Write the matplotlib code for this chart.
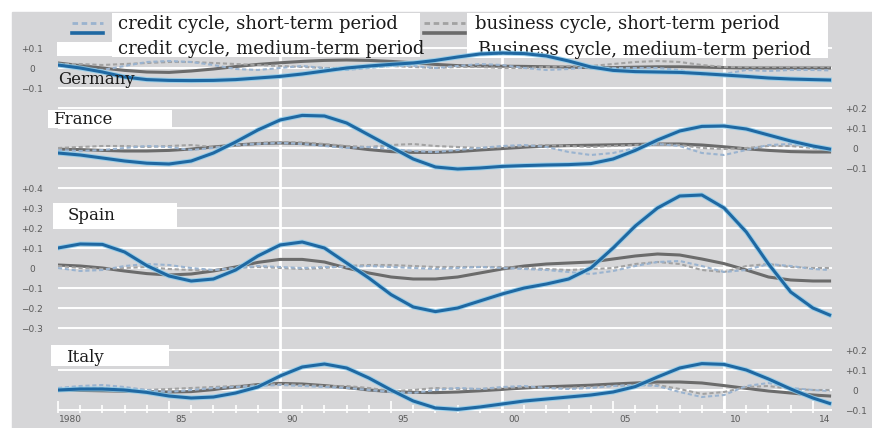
import numpy as np
import matplotlib
matplotlib.use("Agg")
import matplotlib.pyplot as plt
import matplotlib.transforms as mtransforms
from matplotlib.lines import Line2D
from matplotlib.patches import Rectangle

# yearly readings, last point = latest observation (2014 Q3)
years = list(range(1980, 2015)) + [2014.75]

de_credit_short = [0.01, 0.0, -0.01, 0.01, 0.03, 0.035, 0.03, 0.015, -0.005, -0.01, 0.0, 0.01,
                   0.0, -0.01, 0.0, 0.01, 0.01, 0.0, 0.01, 0.02, 0.015, 0.0, -0.01, -0.005,
                   0.005, 0.0, 0.0, 0.0, -0.01, -0.035, -0.03, -0.01, -0.015, -0.01, -0.01, -0.012]
de_credit_med = [0.015, 0.0, -0.02, -0.045, -0.058, -0.062, -0.063, -0.062, -0.058, -0.05, -0.042, -0.03,
                 -0.015, 0.0, 0.01, 0.018, 0.025, 0.038, 0.055, 0.07, 0.075, 0.072, 0.06, 0.035,
                 0.005, -0.012, -0.018, -0.02, -0.022, -0.028, -0.035, -0.042, -0.05, -0.055, -0.058, -0.06]
de_bus_short = [0.02, 0.02, 0.015, 0.02, 0.025, 0.03, 0.03, 0.025, 0.02, 0.015, 0.01, 0.005,
                0.0, 0.0, 0.005, 0.01, 0.005, 0.0, 0.005, 0.005, 0.0, 0.0, 0.005, 0.01,
                0.01, 0.02, 0.03, 0.035, 0.03, 0.015, 0.005, 0.005, 0.005, 0.005, 0.005, 0.005]
de_bus_med = [0.025, 0.012, 0.0, -0.012, -0.02, -0.022, -0.015, -0.005, 0.007, 0.018, 0.026, 0.033,
              0.038, 0.04, 0.038, 0.033, 0.026, 0.018, 0.012, 0.01, 0.009, 0.008, 0.006, 0.004,
              0.002, 0.002, 0.004, 0.006, 0.006, 0.004, 0.002, 0.0, 0.0, 0.0, 0.0, 0.0]

fr_credit_short = [-0.01, -0.015, -0.01, 0.0, 0.01, 0.005, -0.01, 0.0, 0.015, 0.02, 0.025, 0.02,
                   0.01, 0.0, 0.005, -0.005, -0.015, -0.02, -0.01, 0.0, 0.01, 0.015, 0.005, -0.02,
                   -0.035, -0.025, 0.0, 0.02, 0.01, -0.025, -0.035, -0.01, 0.015, 0.02, 0.005, -0.01]
fr_credit_med = [-0.025, -0.035, -0.05, -0.065, -0.076, -0.08, -0.065, -0.025, 0.03, 0.09, 0.14, 0.163,
                 0.16, 0.125, 0.065, 0.005, -0.055, -0.095, -0.105, -0.1, -0.092, -0.088, -0.085, -0.083,
                 -0.078, -0.055, -0.012, 0.04, 0.085, 0.108, 0.11, 0.095, 0.065, 0.035, 0.01, -0.005]
fr_bus_short = [0.0, 0.005, 0.01, 0.01, 0.005, 0.01, 0.015, 0.005, 0.01, 0.025, 0.03, 0.028,
                0.02, 0.01, 0.005, 0.015, 0.02, 0.01, 0.005, 0.0, 0.005, 0.01, 0.015, 0.01,
                0.005, 0.01, 0.015, 0.02, 0.015, 0.0, -0.005, 0.0, 0.01, 0.01, 0.0, -0.01]
fr_bus_med = [-0.005, -0.008, -0.012, -0.015, -0.015, -0.012, -0.005, 0.005, 0.015, 0.022, 0.025, 0.022,
              0.015, 0.005, -0.008, -0.018, -0.022, -0.022, -0.018, -0.01, -0.003, 0.004, 0.009, 0.012,
              0.014, 0.016, 0.018, 0.02, 0.02, 0.015, 0.006, -0.004, -0.012, -0.018, -0.02, -0.02]

es_credit_short = [0.0, -0.015, -0.01, 0.01, 0.02, 0.015, 0.0, -0.01, 0.0, 0.01, 0.005, 0.0,
                   0.005, 0.005, 0.01, 0.005, 0.0, -0.005, 0.0, 0.005, 0.0, -0.005, -0.01, -0.02,
                   -0.03, -0.015, 0.01, 0.03, 0.035, 0.01, -0.02, -0.01, 0.02, 0.01, -0.005, -0.01]
es_credit_med = [0.1, 0.12, 0.118, 0.08, 0.012, -0.04, -0.065, -0.055, -0.01, 0.06, 0.115, 0.13,
                 0.1, 0.025, -0.05, -0.133, -0.195, -0.218, -0.2, -0.165, -0.13, -0.1, -0.08, -0.055,
                 0.0, 0.1, 0.21, 0.3, 0.36, 0.365, 0.3, 0.18, 0.02, -0.12, -0.2, -0.235]
es_bus_short = [0.01, 0.0, -0.005, 0.0, 0.005, -0.005, -0.01, -0.01, 0.0, 0.005, 0.0, -0.005,
                0.0, 0.01, 0.015, 0.015, 0.01, 0.005, 0.005, 0.005, 0.005, 0.0, -0.005, -0.01,
                -0.005, 0.0, 0.02, 0.03, 0.02, -0.01, -0.02, 0.01, 0.02, 0.005, 0.0, 0.0]
es_bus_med = [0.015, 0.01, 0.0, -0.015, -0.028, -0.035, -0.03, -0.015, 0.005, 0.028, 0.043, 0.043,
              0.03, 0.0, -0.025, -0.045, -0.055, -0.055, -0.045, -0.025, -0.005, 0.01, 0.02, 0.025,
              0.03, 0.045, 0.06, 0.07, 0.065, 0.045, 0.022, -0.01, -0.045, -0.06, -0.065, -0.065]

it_credit_short = [0.01, 0.02, 0.025, 0.015, 0.0, -0.01, 0.0, 0.01, 0.015, 0.02, 0.025, 0.02,
                   0.015, 0.01, 0.0, -0.01, -0.015, 0.0, 0.01, 0.005, 0.015, 0.02, 0.01, 0.005,
                   0.01, 0.02, 0.025, 0.02, -0.01, -0.035, -0.025, 0.02, 0.035, 0.01, 0.0, -0.005]
it_credit_med = [0.0, 0.005, 0.005, 0.0, -0.012, -0.03, -0.04, -0.035, -0.015, 0.015, 0.07, 0.115,
                 0.13, 0.11, 0.06, 0.0, -0.055, -0.09, -0.097, -0.085, -0.07, -0.055, -0.045, -0.035,
                 -0.025, -0.01, 0.017, 0.065, 0.11, 0.132, 0.128, 0.1, 0.055, 0.005, -0.04, -0.067]
it_bus_short = [0.005, 0.01, 0.01, 0.005, 0.0, 0.005, 0.01, 0.015, 0.02, 0.025, 0.03, 0.025,
                0.02, 0.02, 0.01, -0.005, 0.0, 0.01, 0.005, 0.005, 0.01, 0.015, 0.01, 0.01,
                0.015, 0.02, 0.025, 0.025, 0.005, -0.02, -0.01, 0.015, 0.02, 0.005, 0.0, 0.0]
it_bus_med = [0.0, -0.002, -0.004, -0.006, -0.008, -0.01, -0.008, 0.002, 0.015, 0.027, 0.033, 0.03,
              0.022, 0.012, 0.0, -0.008, -0.012, -0.013, -0.01, -0.004, 0.003, 0.01, 0.016, 0.02,
              0.024, 0.03, 0.035, 0.04, 0.04, 0.035, 0.022, 0.008, -0.005, -0.015, -0.025, -0.03]

countries = ["Germany", "France", "Spain", "Italy"]
offsets = [0.0, -0.4, -1.0, -1.61]
series = {
    "Germany": (de_credit_short, de_credit_med, de_bus_short, de_bus_med),
    "France": (fr_credit_short, fr_credit_med, fr_bus_short, fr_bus_med),
    "Spain": (es_credit_short, es_credit_med, es_bus_short, es_bus_med),
    "Italy": (it_credit_short, it_credit_med, it_bus_short, it_bus_med),
}
left_ticks = {"Germany": [0.1, 0.0, -0.1],
              "Spain": [0.4, 0.3, 0.2, 0.1, 0.0, -0.1, -0.2, -0.3]}
right_ticks = {"France": [0.2, 0.1, 0.0, -0.1],
               "Italy": [0.2, 0.1, 0.0, -0.1]}
xtick_pos = [1980, 1985, 1990, 1995, 2000, 2005, 2010, 2014]
xtick_lab = ["1980", "85", "90", "95", "00", "05", "10", "14"]

GRAY = "#d6d6d8"
BLUE = "#1f68a2"
BLUE_GLOW = "#8ccbeb"
DARK = "#6b6b6b"
DASH_BLUE = "#9ab3cf"
DASH_GRAY = "#a2a2a2"
W, H = 872, 428


def fx(x):
    return x / W


def fy(y):
    return 1 - y / H


def tick_text(v):
    if v == 0:
        return "0"
    return ("+" if v > 0 else "\u2212") + "%.1f" % abs(v)


fig = plt.figure(figsize=(8.72, 4.28), dpi=100)
fig.patches.append(Rectangle((fx(12), 0), 1, fy(12), transform=fig.transFigure,
                             color=GRAY, zorder=-5))
ax = fig.add_axes([fx(58), fy(413), fx(832) - fx(58), fy(15) - fy(413)])
ax.set_facecolor(GRAY)
for s in ax.spines.values():
    s.set_visible(False)
ax.set_xlim(1980, 2014.86)
ax.set_ylim(-(413 - 68) / 200, (68 - 15) / 200)

# y ticks: left side labels for Germany/Spain, right side for France/Italy
all_pos, all_lab = [], []
for c, off in zip(countries, offsets):
    for v in left_ticks.get(c, []):
        all_pos.append(v + off)
        all_lab.append(tick_text(v))
    for v in right_ticks.get(c, []):
        all_pos.append(v + off)
        all_lab.append("")
ax.set_yticks(all_pos)
ax.set_yticklabels(all_lab)
ax.tick_params(axis="y", length=0, pad=18.5, labelsize=6.5, labelcolor="#5a5a5a")
plt.setp(ax.get_yticklabels(), ha="center")
ax.grid(axis="y", color="white", linewidth=1.4)
ax.set_axisbelow(True)

ax2 = ax.twinx()
ax2.set_ylim(ax.get_ylim())
r_pos, r_lab = [], []
for c, off in zip(countries, offsets):
    for v in right_ticks.get(c, []):
        r_pos.append(v + off)
        r_lab.append(tick_text(v))
ax2.set_yticks(r_pos)
ax2.set_yticklabels(r_lab)
ax2.tick_params(axis="y", length=0, pad=17, labelsize=6.5, labelcolor="#5a5a5a")
plt.setp(ax2.get_yticklabels(), ha="center")
for s in ax2.spines.values():
    s.set_visible(False)

for yr in [1990, 2000, 2010]:
    ax.axvline(yr, color="white", linewidth=2, zorder=1.5)

# x axis
ax.set_xticks(xtick_pos)
ax.set_xticklabels(xtick_lab)
ax.set_xticks(range(1980, 2015), minor=True)
ax.tick_params(axis="x", which="major", direction="in", length=9, width=1.2,
               color="white", labelsize=6.5, labelcolor="#5a5a5a", pad=1.5)
ax.tick_params(axis="x", which="minor", direction="in", length=6, width=1.2, color="white")
shift = mtransforms.ScaledTranslation(0.12, 0, fig.dpi_scale_trans)
for lbl in ax.get_xticklabels():
    lbl.set_transform(lbl.get_transform() + shift)

# curves
for c, off in zip(countries, offsets):
    cs, cm, bs, bm = [np.array(v) + off for v in series[c]]
    ax.plot(years, bm, color=DARK, linewidth=2.2, zorder=3)
    ax.plot(years, bs, color=DASH_GRAY, linewidth=1.5, dashes=(2, 1.3), zorder=3.5)
    ax.plot(years, cs, color=DASH_BLUE, linewidth=1.5, dashes=(2, 1.3), zorder=3.6)
    ax.plot(years, cm, color=BLUE_GLOW, linewidth=3.6, alpha=0.8, zorder=3.8)
    ax.plot(years, cm, color=BLUE, linewidth=2.2, zorder=4)

# country name boxes
name_boxes = {"France": (48, 110, 172, 128), "Spain": (53, 203, 177, 229),
              "Italy": (51, 345, 169, 366)}
name_pos = {"Germany": (58, 80), "France": (53, 119), "Spain": (68, 216), "Italy": (66, 357)}
serif = "DejaVu Serif"
for c in countries:
    if c in name_boxes:
        x0, y0, x1, y1 = name_boxes[c]
        ax.add_patch(Rectangle((fx(x0), fy(y1)), fx(x1) - fx(x0), fy(y0) - fy(y1),
                               transform=fig.transFigure, facecolor="white",
                               edgecolor="none", zorder=2, clip_on=False))
    px, py = name_pos[c]
    ax.text(fx(px), fy(py), c, transform=fig.transFigure, family=serif, fontsize=12,
            color="#1a1a1a", va="center", ha="left", zorder=6)

# legend, drawn the way it sits in the original
for x0, y0, x1, y1 in [(112, 13, 420, 57), (57, 42, 112, 56), (467, 13, 828, 58)]:
    ax.add_patch(Rectangle((fx(x0), fy(y1)), fx(x1) - fx(x0), fy(y0) - fy(y1),
                           transform=fig.transFigure, facecolor="white",
                           edgecolor="none", zorder=2, clip_on=False))
handles = [((72, 103), 23, DASH_BLUE, (2, 1.3), 2.0), ((72, 103), 33, BLUE, None, 2.6),
           ((424, 465), 23, DASH_GRAY, (2, 1.3), 2.0), ((424, 465), 33, DARK, None, 2.6)]
for (hx0, hx1), hy, col, dsh, lw in handles:
    ln = Line2D([fx(hx0), fx(hx1)], [fy(hy), fy(hy)], transform=fig.transFigure,
                color=col, linewidth=lw, clip_on=False, zorder=6)
    if dsh:
        ln.set_dashes(dsh)
    ax.add_line(ln)
legend_texts = [(118, 24, "credit cycle, short-term period"),
                (118, 49, "credit cycle, medium-term period"),
                (475, 24, "business cycle, short-term period"),
                (478, 50, "Business cycle, medium-term period")]
for lx, ly, t in legend_texts:
    ax.text(fx(lx), fy(ly), t, transform=fig.transFigure, family=serif, fontsize=13,
            color="#1a1a1a", va="center", ha="left", zorder=3.7)

fig.savefig("out.png", dpi=100)
